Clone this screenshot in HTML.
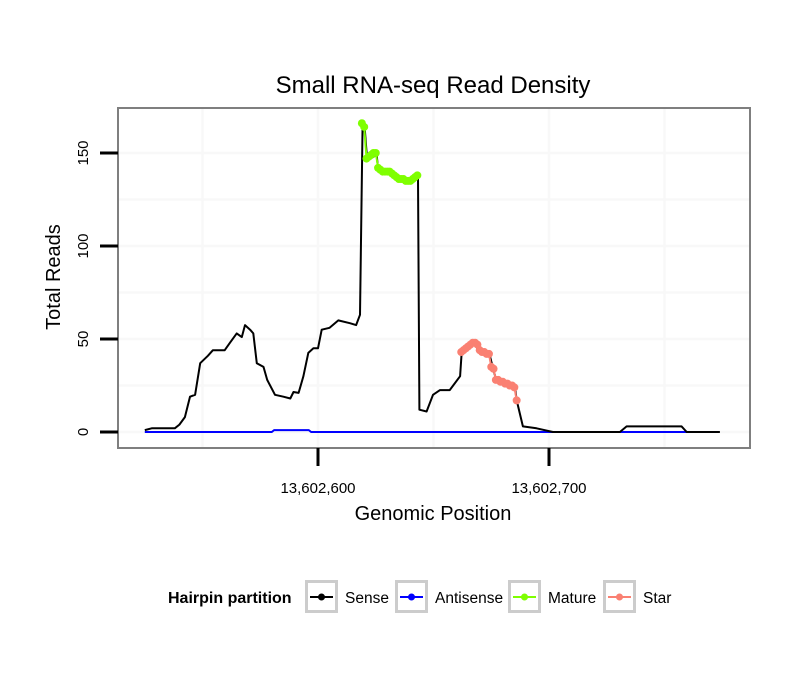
<!DOCTYPE html>
<html><head><meta charset="utf-8"><style>
body{margin:0;background:#fff;}
svg text{font-family:"Liberation Sans",sans-serif;}
</style></head><body>
<svg width="810" height="690" xmlns="http://www.w3.org/2000/svg">
<rect width="810" height="690" fill="#fff"/>
<text x="433" y="93" font-size="24" text-anchor="middle">Small RNA-seq Read Density</text>
<g id="grid"></g>
<g id="plot"></g>
<rect x="118" y="108" width="632" height="340" fill="none" stroke="#7f7f7f" stroke-width="2"/>
<g id="axes"></g>
<text x="433" y="520" font-size="20" text-anchor="middle">Genomic Position</text>
<text x="0" y="0" font-size="20" text-anchor="middle" transform="translate(60,277) rotate(-90)">Total Reads</text>
<g>
<text x="168" y="603" font-size="16" font-weight="bold">Hairpin partition</text>
<g id="legend"></g>
</g>
</svg>
<script>
const senseX=[525,528,538,540,542.4,544.6,546.8,549,552.4,554.5,559.6,561.9,564.8,567,568.4,570.6,572,573.5,576.4,578,581.4,585,588,589.4,591.6,593.7,595.8,598,600,601.6,605,608.8,613.8,616.5,618.2,619.3,620.3,621.3,625.4,626,628,632.5,636.8,641,643.3,643.9,647,649.8,652.8,657,661.5,662.2,667.2,670,674.5,676,677.4,685.3,686,688.7,694.6,701.7,730.7,733.6,757.4,759.6,774];
const senseY=[1,2,2,4,8,19,20,37,41,44,44,48,53,51,57.5,55,53,37,35,28,20,19,18,21.5,21,30,42.5,45,45,55,56,60,58.5,57.5,63,166,162,146,149,141,140,140,135.5,134.5,137,12,11,20,22.5,22.5,30,43,48.5,43,40.5,33,27,24,17,3,2,0,0,3,3,0,0];
const antiX=[525,580,581,596,597,760];
const antiY=[0,0,1,1,0,0];
const matureX=[619,620,621,622,623,624,625,626,627,628,629,630,631,632,633,634,635,636,637,638,639,640,641,642,643];
const matureY=[166,164,147,148,149,150,150,142,141,140,140,140,140,139,138,137,136,136,136,135,135,135,136,137,138];
const starX=[662,663,664,665,666,667,668,669,670,671,672,673,674,675,676,677,678,679,680,681,682,683,684,685,686];
const starY=[43,44,45,46,47,48,48,47,44,43,43,42,42,35,34,28,28,27,27,26,26,25,25,24,17];
const yTicks=[0,50,100,150];
const xTicks=[600,700];
const xTickLabels=["13,602,600","13,602,700"];
const legendNames=["Sense","Antisense","Mature","Star"];
const legendColors=["#000","#0000ff","#7fff00","#fa8072"];
const NS="http://www.w3.org/2000/svg";
const sx=v=>318+(v-600)*2.31;
const sy=v=>432-v*1.86;
function mk(tag,attrs,parent){const e=document.createElementNS(NS,tag);for(const k in attrs)e.setAttribute(k,attrs[k]);parent.appendChild(e);return e;}
const grid=document.getElementById('grid'),plot=document.getElementById('plot'),axes=document.getElementById('axes');
for(let v=0;v<=175;v+=25){if(sy(v)<108)continue;const l=mk('line',{x1:118,x2:750,y1:sy(v),y2:sy(v),stroke:'#f8f8f8','stroke-width':2.5},grid);

}
for(let v=550;v<=800;v+=50){const x=sx(v);if(x<118||x>750)continue;const l=mk('line',{x1:x,x2:x,y1:108,y2:448,stroke:'#f8f8f8','stroke-width':2.5},grid);

}
function path(xs,ys,color,w,name){let d=xs.map((x,i)=>(i?'L':'M')+sx(x).toFixed(1)+','+sy(ys[i]).toFixed(1)).join('');const p=mk('path',{d:d,fill:'none',stroke:color,'stroke-width':w,'stroke-linejoin':'round'},plot);

}
path(antiX,antiY,'#0000ff',2,'antisense-line');
path(senseX,senseY,'#000',2,'sense-line');
path(matureX,matureY,'#7fff00',2,'mature-line');
path(starX,starY,'#fa8072',2,'star-line');
matureX.forEach((x,i)=>{const c=mk('circle',{cx:sx(x),cy:sy(matureY[i]),r:4,fill:'#7fff00'},plot);

});
starX.forEach((x,i)=>{const c=mk('circle',{cx:sx(x),cy:sy(starY[i]),r:4,fill:'#fa8072'},plot);

});
yTicks.forEach(v=>{const t=mk('line',{x1:100,x2:118,y1:sy(v),y2:sy(v),stroke:'#000','stroke-width':3},axes);


const tx=mk('text',{x:0,y:0,'font-size':15,'text-anchor':'middle',transform:`translate(88,${sy(v)}) rotate(-90)`},axes);tx.textContent=v;

});
xTicks.forEach((v,i)=>{const t=mk('line',{x1:sx(v),x2:sx(v),y1:448,y2:466,stroke:'#000','stroke-width':3},axes);


const tx=mk('text',{x:sx(v),y:493,'font-size':15,'text-anchor':'middle'},axes);tx.textContent=xTickLabels[i];

});
const lg=document.getElementById('legend');const bx=[305,395,508,603];
legendNames.forEach((n,i)=>{const g=mk('g',{},lg);


mk('rect',{x:bx[i]+1.5,y:581.5,width:30,height:30,fill:'#fff',stroke:'#cccccc','stroke-width':3},g);
mk('line',{x1:bx[i]+5,x2:bx[i]+28,y1:597,y2:597,stroke:legendColors[i],'stroke-width':2},g);
mk('circle',{cx:bx[i]+16.5,cy:597,r:3.5,fill:legendColors[i]},g);
const t=mk('text',{x:bx[i]+40,y:603,'font-size':15.5},g);t.textContent=n;});
</script>
</body></html>
